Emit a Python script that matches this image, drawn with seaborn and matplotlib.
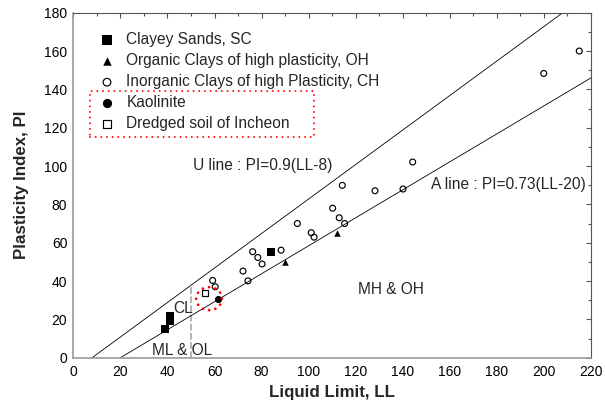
import matplotlib
matplotlib.use("Agg")
import matplotlib.pyplot as plt
import seaborn as sns
import pandas as pd
import numpy as np
from matplotlib.patches import Rectangle, Ellipse
from matplotlib.ticker import MultipleLocator

# ---------------- data ----------------
sc_ll = [39, 41, 41, 84]
sc_pi = [15, 19, 22, 55]

oh_ll = [90, 112]
oh_pi = [50, 65]

ch_ll = [59.2, 60.3, 72.1, 74.2, 76.2, 78.4, 80.2, 88.3, 95.2, 101.1,
         102.3, 110.2, 113.0, 115.3, 114.3, 128.2, 140.1, 144.2, 199.9, 215.0]
ch_pi = [40.3, 37.0, 45.2, 40.1, 55.3, 52.3, 48.9, 56.1, 70.0, 65.2,
         62.9, 78.0, 73.0, 70.0, 89.9, 87.1, 88.0, 102.1, 148.3, 160.0]

kao_ll = [61.5]
kao_pi = [30.6]

dred_ll = [56.1]
dred_pi = [33.9]

u_ll = [8, 208]      # U line : PI = 0.9(LL-8)
a_ll = [20, 220]     # A line : PI = 0.73(LL-20)
ll_boundary = 50

labels = ["Clayey Sands, SC", "Organic Clays of high plasticity, OH",
          "Inorganic Clays of high Plasticity, CH", "Kaolinite",
          "Dredged soil of Incheon"]

# ---------------- style ----------------
sns.set_theme(style="white")
plt.rcParams['font.family'] = ['Liberation Sans', 'DejaVu Sans']

fig = plt.figure(figsize=(6.05, 4.11), dpi=100)
ax = fig.add_axes([0.1212, 0.1297, 0.9769 - 0.1212, 0.9691 - 0.1297])

# lines
u_ll_arr = np.array(u_ll, dtype=float)
a_ll_arr = np.array(a_ll, dtype=float)
ax.plot(u_ll_arr, 0.9 * (u_ll_arr - 8), color='black', lw=0.6, zorder=2)
ax.plot(a_ll_arr, 0.73 * (a_ll_arr - 20), color='black', lw=0.6, zorder=2)
ax.plot([ll_boundary, ll_boundary], [0, 0.9 * (ll_boundary - 8)],
        color='#a8a8a8', lw=1.2, ls=(0, (4, 1.5)), zorder=1)

# points
df_sc = pd.DataFrame({"LL": sc_ll, "PI": sc_pi})
df_oh = pd.DataFrame({"LL": oh_ll, "PI": oh_pi})
df_ch = pd.DataFrame({"LL": ch_ll, "PI": ch_pi})
df_k = pd.DataFrame({"LL": kao_ll, "PI": kao_pi})
df_d = pd.DataFrame({"LL": dred_ll, "PI": dred_pi})

sns.scatterplot(data=df_sc, x="LL", y="PI", ax=ax, marker='s', s=27,
                color='black', edgecolor='black', linewidth=0, label=labels[0], zorder=3)
sns.scatterplot(data=df_oh, x="LL", y="PI", ax=ax, marker='^', s=22,
                color='black', edgecolor='black', linewidth=0, label=labels[1], zorder=3)
sns.scatterplot(data=df_ch, x="LL", y="PI", ax=ax, marker='o', s=18,
                color='black', facecolor='none', edgecolor='black', linewidth=0.85,
                label=labels[2], zorder=3)
sns.scatterplot(data=df_k, x="LL", y="PI", ax=ax, marker='o', s=26,
                color='black', edgecolor='black', linewidth=0, label=labels[3], zorder=3)
sns.scatterplot(data=df_d, x="LL", y="PI", ax=ax, marker='s', s=18,
                color='black', facecolor='none', edgecolor='black', linewidth=0.85,
                label=labels[4], zorder=3)

# axes
ax.set_xlim(0, 220)
ax.set_ylim(0, 180)
ax.xaxis.set_major_locator(MultipleLocator(20))
ax.xaxis.set_minor_locator(MultipleLocator(10))
ax.yaxis.set_major_locator(MultipleLocator(20))
ax.yaxis.set_minor_locator(MultipleLocator(10))
ax.tick_params(which='both', direction='in', top=True, right=True,
               color='#555555', width=0.8)
ax.tick_params(which='major', length=3.6, labelsize=10, labelcolor='black')
ax.tick_params(which='minor', length=1.9)
ax.tick_params(axis='x', which='major', pad=5.5)
ax.tick_params(axis='y', which='major', pad=4.3)
for side in ['left', 'bottom']:
    ax.spines[side].set_color('#9a9a9a')
    ax.spines[side].set_linewidth(1.2)
for side in ['top', 'right']:
    ax.spines[side].set_color('#555555')
    ax.spines[side].set_linewidth(0.8)

ax.set_xlabel("Liquid Limit, LL", fontsize=12.2, fontweight='bold', labelpad=4)
ax.set_ylabel("Plasticity Index, PI", fontsize=12.2, fontweight='bold', labelpad=11)

# annotations
tfs = 11.2
ax.text(50.9, 100.3, "U line : PI=0.9(LL-8)", fontsize=tfs, va='center', ha='left')
ax.text(152, 90.4, "A line : PI=0.73(LL-20)", fontsize=tfs, va='center', ha='left')
ax.text(46.6, 25.9, "CL", fontsize=tfs, va='center', ha='center')
ax.text(46.1, 4.0, "ML & OL", fontsize=tfs, va='center', ha='center')
ax.text(135, 35.8, "MH & OH", fontsize=tfs, va='center', ha='center')

# red dotted ellipse around kaolinite / dredged soil
ell = Ellipse((57.7, 30.8), 11.0, 12.0, fill=False, edgecolor='red', lw=2.0,
              ls=(0, (0.01, 2.3)), capstyle='round', zorder=4)
ax.add_patch(ell)

# legend
leg = ax.legend(loc='upper left', bbox_to_anchor=(0.1640, 0.921),
                bbox_transform=fig.transFigure, frameon=False, fontsize=tfs,
                borderpad=0, borderaxespad=0, handlelength=1.0,
                handletextpad=0.75, labelspacing=0.38, scatterpoints=1,
                markerscale=1.3)

# red dotted box around last two legend entries (figure pixels)
W, H = 605.0, 411.0
x0, y0, x1, y1 = 90, 91, 314, 137
rect = Rectangle((x0 / W, 1 - y1 / H), (x1 - x0) / W, (y1 - y0) / H,
                 transform=fig.transFigure, fill=False, edgecolor='red',
                 lw=1.4, ls=(0, (0.01, 2.9)), capstyle='round', zorder=5)
fig.patches.append(rect)

fig.savefig("out.png", dpi=100)
